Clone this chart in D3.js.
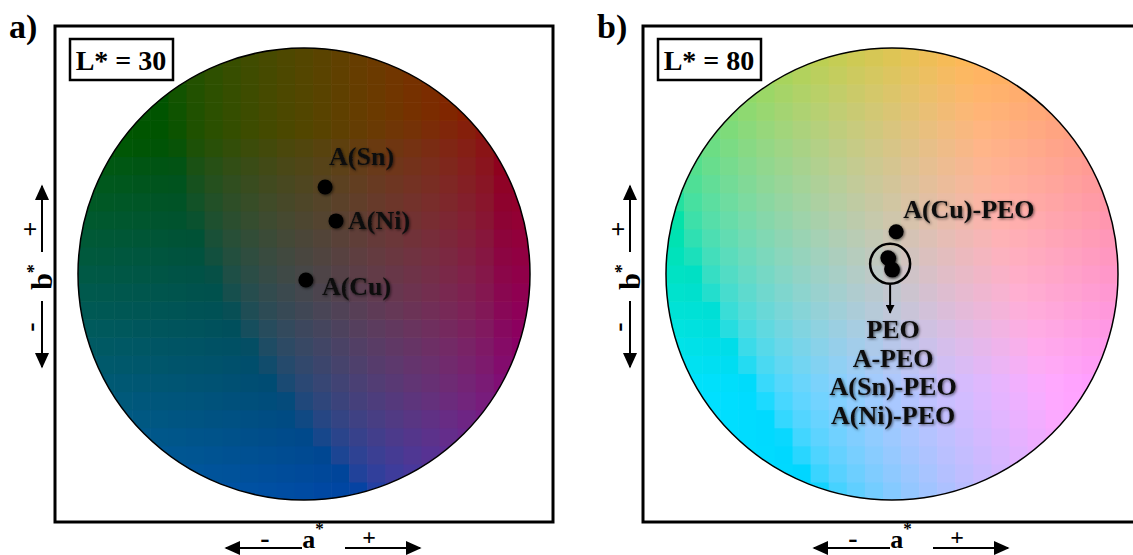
<!DOCTYPE html>
<html>
  <head>
    <meta charset="utf-8">
    <title>CIELAB a*b* colour plane</title>
    <script src="https://d3js.org/d3.v7.min.js"></script>
    <style>
      body { margin: 0; background: #fff; }
      svg { display: block; }
      svg text { font-family: "Times New Roman", "Liberation Serif", Tinos, "Nimbus Roman", serif; font-weight: bold; }
      .frame { fill: none; stroke: #000; stroke-width: 3; }
      .lbox { fill: #fff; stroke: #000; stroke-width: 2.5; }
      .rim { fill: none; stroke: #000; stroke-width: 1.5; }
      .dot { fill: #000; }
      .label { fill: #111; font-size: 26px; }
      .axisLine { stroke: #000; stroke-width: 2; }
    </style>
  </head>
  <body>
    <svg id="chart" width="1133" height="555"></svg>
    <script>
      // panels
      const panelTags = ["a)", "b)"];
      const lightness = [30, 80];
      // panel a samples (a*, b*)
      const samplesA = ["A(Sn)", "A(Ni)", "A(Cu)"];
      const aStarA = [5.6, 8.5, 0.5];
      const bStarA = [23.1, 14.1, -1.6];
      // panel b samples (a*, b*)
      const samplesB = ["A(Cu)-PEO", "PEO", "A-PEO", "A(Sn)-PEO", "A(Ni)-PEO"];
      const aStarB = [1.1, -1.1, -0.9, 0.1, -0.1];
      const bStarB = [11.2, 4.3, 4.1, 1.1, 1.3];
      // colour plane range and grid step
      const planeRange = [-60, 60];
      const gridStep = 4.8;

      const chart = d3.select("#chart");
      const defs = chart.append("defs");
      const shadow = defs.append("filter")
        .attr("id", "shadow")
        .attr("x", "-20%").attr("y", "-30%")
        .attr("width", "140%").attr("height", "160%");
      shadow.append("feDropShadow")
        .attr("dx", 1).attr("dy", 1)
        .attr("stdDeviation", 1.5)
        .attr("flood-color", "#000")
        .attr("flood-opacity", 0.6);
      const arrowHead = defs.append("marker")
        .attr("id", "head")
        .attr("viewBox", "0 0 10 10")
        .attr("refX", 9).attr("refY", 5)
        .attr("markerWidth", 9).attr("markerHeight", 9)
        .attr("markerUnits", "userSpaceOnUse")
        .attr("orient", "auto");
      arrowHead.append("path").attr("d", "M0,0L10,5L0,10Z").attr("fill", "#000");
      const bigHead = defs.append("marker")
        .attr("id", "bighead")
        .attr("viewBox", "0 0 10 10")
        .attr("refX", 9).attr("refY", 5)
        .attr("markerWidth", 16).attr("markerHeight", 16)
        .attr("markerUnits", "userSpaceOnUse")
        .attr("orient", "auto");
      bigHead.append("path").attr("d", "M0,0.5L10,5L0,9.5Z").attr("fill", "#000");

      const frameW = 498, frameH = 496, frameTop = 26;
      const frameLeft = [55, 643];
      const radius = 226;

      // grid values along each axis
      const gridVals = d3.range(planeRange[0], planeRange[1] - 0.01, gridStep);

      function drawPanel(p) {
        const x0 = frameLeft[p];
        const cx = x0 + 249, cy = 274;
        const x = d3.scaleLinear().domain(planeRange).range([cx - radius, cx + radius]);
        const y = d3.scaleLinear().domain(planeRange).range([cy + radius, cy - radius]);
        const g = chart.append("g");

        g.append("text")
          .attr("x", x0 - 46).attr("y", 38)
          .style("font-size", "34px")
          .text(panelTags[p]);
        g.append("rect").attr("class", "frame")
          .attr("x", x0).attr("y", frameTop)
          .attr("width", frameW).attr("height", frameH);

        // colour plane clipped to a disc
        defs.append("clipPath").attr("id", "disc" + p)
          .append("circle").attr("cx", cx).attr("cy", cy).attr("r", radius);
        const cells = [];
        gridVals.forEach(function(a) {
          gridVals.forEach(function(b) { cells.push({ a: a, b: b }); });
        });
        const L = lightness[p];
        g.append("g").attr("clip-path", "url(#disc" + p + ")")
          .selectAll("rect")
          .data(cells)
          .enter().append("rect")
            .attr("x", function(d) { return x(d.a); })
            .attr("y", function(d) { return y(d.b + gridStep); })
            .attr("width", x(gridStep) - x(0) + 0.6)
            .attr("height", x(gridStep) - x(0) + 0.6)
            .attr("fill", function(d) {
              return d3.lab(L, d.a + gridStep / 2, d.b + gridStep / 2).formatRgb();
            });
        g.append("circle").attr("class", "rim")
          .attr("cx", cx).attr("cy", cy).attr("r", radius);

        // L* box
        g.append("rect").attr("class", "lbox")
          .attr("x", x0 + 15).attr("y", 39)
          .attr("width", 103).attr("height", 41);
        g.append("text")
          .attr("x", x0 + 66).attr("y", 70)
          .attr("text-anchor", "middle")
          .style("font-size", "28px")
          .text("L* = " + lightness[p]);

        // b* axis arrow
        const bx = x0 - 13;
        g.append("line").attr("class", "axisLine")
          .attr("x1", bx).attr("x2", bx).attr("y1", 252).attr("y2", 186)
          .attr("marker-end", "url(#bighead)");
        g.append("line").attr("class", "axisLine")
          .attr("x1", bx).attr("x2", bx).attr("y1", 301).attr("y2", 367)
          .attr("marker-end", "url(#bighead)");
        const bl = g.append("text")
          .attr("transform", "translate(" + (bx + 10) + ",277) rotate(-90)")
          .attr("text-anchor", "middle")
          .style("font-size", "30px");
        bl.append("tspan").text("b");
        bl.append("tspan").attr("dy", -12).style("font-size", "18px").text("*");
        g.append("text")
          .attr("transform", "translate(" + (bx - 3) + ",229) rotate(-90)")
          .attr("text-anchor", "middle")
          .style("font-size", "26px").text("+");
        g.append("text")
          .attr("transform", "translate(" + (bx - 3) + ",327) rotate(-90)")
          .attr("text-anchor", "middle")
          .style("font-size", "28px").text("-");

        // a* axis arrow
        const ay = 548, ax = cx + 9;
        g.append("line").attr("class", "axisLine")
          .attr("x1", ax - 11).attr("x2", ax - 87).attr("y1", ay).attr("y2", ay)
          .attr("marker-end", "url(#bighead)");
        g.append("line").attr("class", "axisLine")
          .attr("x1", ax + 32).attr("x2", ax + 107).attr("y1", ay).attr("y2", ay)
          .attr("marker-end", "url(#bighead)");
        const al = g.append("text")
          .attr("x", ax).attr("y", 548)
          .attr("text-anchor", "middle")
          .style("font-size", "26px");
        al.append("tspan").text("a");
        al.append("tspan").attr("dy", -14).style("font-size", "17px").text("*");
        g.append("text")
          .attr("x", ax - 48).attr("y", ay - 1)
          .attr("text-anchor", "middle")
          .style("font-size", "28px").text("-");
        g.append("text")
          .attr("x", ax + 56).attr("y", ay - 3)
          .attr("text-anchor", "middle")
          .style("font-size", "24px").text("+");

        return { g: g, x: x, y: y };
      }

      // panel a
      const pa = drawPanel(0);
      const ptsA = samplesA.map(function(s, i) { return { name: s, a: aStarA[i], b: bStarA[i] }; });
      pa.g.selectAll(".dot")
        .data(ptsA)
        .enter().append("circle")
          .attr("class", "dot")
          .attr("filter", "url(#shadow)")
          .attr("cx", function(d) { return pa.x(d.a); })
          .attr("cy", function(d) { return pa.y(d.b); })
          .attr("r", 7.5);
      const labelOffset = { "A(Sn)": [4, -22], "A(Ni)": [12, 8], "A(Cu)": [16, 15] };
      pa.g.selectAll(".label")
        .data(ptsA)
        .enter().append("text")
          .attr("class", "label")
          .attr("filter", "url(#shadow)")
          .attr("x", function(d) { return pa.x(d.a) + labelOffset[d.name][0]; })
          .attr("y", function(d) { return pa.y(d.b) + labelOffset[d.name][1]; })
          .text(function(d) { return d.name; });

      // panel b
      const pb = drawPanel(1);
      const ptsB = samplesB.map(function(s, i) { return { name: s, a: aStarB[i], b: bStarB[i] }; });
      pb.g.selectAll(".dot")
        .data(ptsB)
        .enter().append("circle")
          .attr("class", "dot")
          .attr("filter", "url(#shadow)")
          .attr("cx", function(d) { return pb.x(d.a); })
          .attr("cy", function(d) { return pb.y(d.b); })
          .attr("r", 7.5);
      pb.g.append("text")
        .attr("class", "label")
        .attr("filter", "url(#shadow)")
        .attr("x", pb.x(ptsB[0].a) + 7)
        .attr("y", pb.y(ptsB[0].b) - 14)
        .text(ptsB[0].name);
      // ring round the overlapping group
      const group = ptsB.slice(1);
      const gx = pb.x(d3.mean(group, function(d) { return d.a; }));
      const gy = pb.y(d3.mean(group, function(d) { return d.b; }));
      pb.g.append("circle")
        .attr("cx", gx).attr("cy", gy).attr("r", 20)
        .attr("fill", "none").attr("stroke", "#000").attr("stroke-width", 2.5);
      pb.g.append("line").attr("class", "axisLine")
        .attr("x1", gx).attr("x2", gx).attr("y1", gy + 21).attr("y2", gy + 49)
        .attr("marker-end", "url(#head)");
      pb.g.selectAll(".groupLabel")
        .data(group)
        .enter().append("text")
          .attr("class", "label groupLabel")
          .attr("filter", "url(#shadow)")
          .attr("text-anchor", "middle")
          .attr("x", gx + 3)
          .attr("y", function(d, i) { return gy + 74 + i * 28.7; })
          .text(function(d) { return d.name; });
    </script>
  </body>
</html>
